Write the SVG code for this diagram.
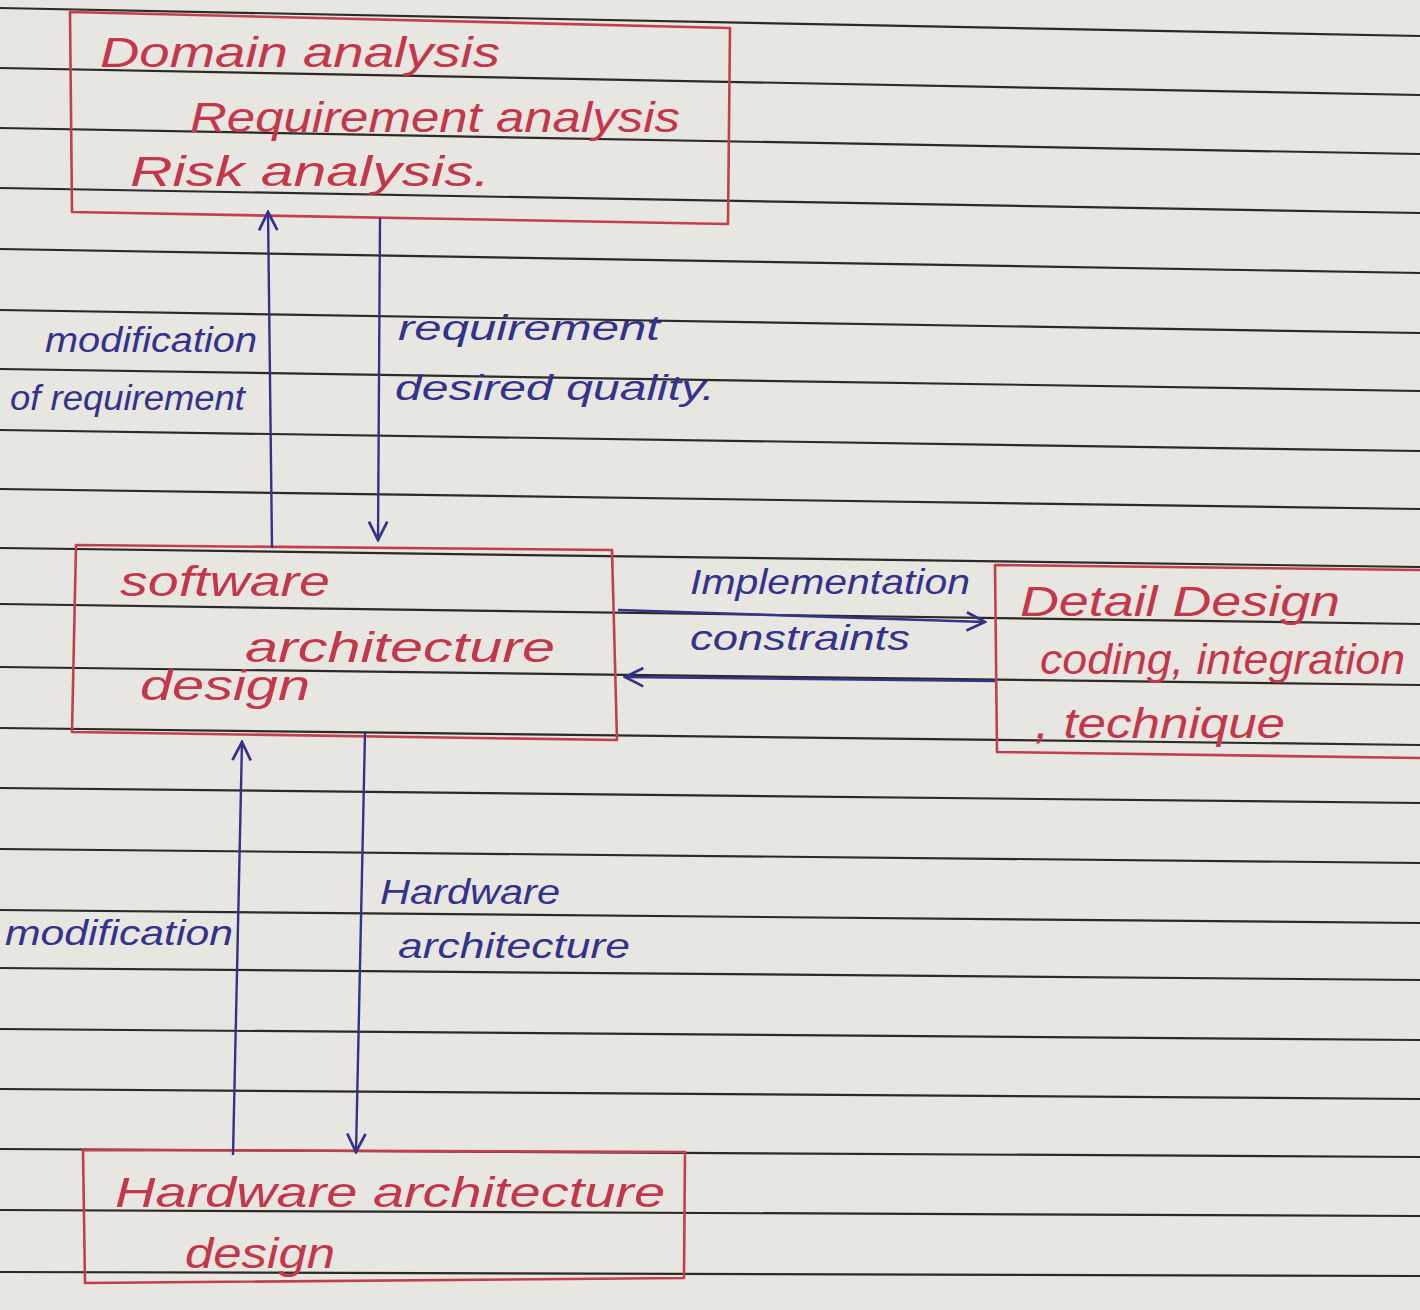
<svg xmlns="http://www.w3.org/2000/svg" width="1420" height="1310" viewBox="0 0 1420 1310">
  <defs>
    <marker id="arr" viewBox="0 0 12 12" refX="11" refY="6" markerWidth="22" markerHeight="22" markerUnits="userSpaceOnUse" orient="auto">
      <path d="M1,1 L11,6 L1,11" fill="none" stroke="#34338a" stroke-width="1.5"/>
    </marker>
    <style>
      .rule { stroke: #2b2a28; stroke-width: 2.2; fill: none; }
      .box { stroke: #c2404e; stroke-width: 2.6; fill: none; stroke-linejoin: round; }
      .edge { stroke: #34338a; stroke-width: 2.4; fill: none; marker-end: url(#arr); }
      .red { fill: #c4364a; font-family: "Liberation Sans", sans-serif; font-style: italic; font-size: 42px; }
      .blue { fill: #33338c; font-family: "Liberation Sans", sans-serif; font-style: italic; font-size: 35px; }
    </style>
  </defs>
  <rect x="0" y="0" width="1420" height="1310" fill="#e8e6e0"/>
  <g id="ruled-paper">
    <path class="rule" d="M0,8 L1420,36"/>
    <path class="rule" d="M0,68 L1420,95"/>
    <path class="rule" d="M0,128 L1420,154"/>
    <path class="rule" d="M0,188 L1420,213"/>
    <path class="rule" d="M0,249 L1420,273"/>
    <path class="rule" d="M0,310 L1420,333"/>
    <path class="rule" d="M0,369 L1420,391"/>
    <path class="rule" d="M0,430 L1420,451"/>
    <path class="rule" d="M0,489 L1420,509"/>
    <path class="rule" d="M0,548 L1420,567"/>
    <path class="rule" d="M0,604 L1420,624"/>
    <path class="rule" d="M0,667 L1420,685"/>
    <path class="rule" d="M0,728 L1420,745"/>
    <path class="rule" d="M0,788 L1420,803"/>
    <path class="rule" d="M0,849 L1420,863"/>
    <path class="rule" d="M0,910 L1420,923"/>
    <path class="rule" d="M0,968 L1420,980"/>
    <path class="rule" d="M0,1029 L1420,1040"/>
    <path class="rule" d="M0,1089 L1420,1099"/>
    <path class="rule" d="M0,1149 L1420,1157"/>
    <path class="rule" d="M0,1210 L1420,1216"/>
    <path class="rule" d="M0,1272 L1420,1276"/>
  </g>
  <g id="node-domain">
    <path class="box" d="M70,12 L730,28 L728,224 L72,212 Z"/>
    <text class="red" x="100" y="67" textLength="400" lengthAdjust="spacingAndGlyphs">Domain analysis</text>
    <text class="red" x="190" y="132" textLength="490" lengthAdjust="spacingAndGlyphs">Requirement analysis</text>
    <text class="red" x="130" y="186" textLength="360" lengthAdjust="spacingAndGlyphs">Risk analysis.</text>
  </g>
  <g id="node-software">
    <path class="box" d="M76,545 L612,550 L617,740 L72,732 Z"/>
    <text class="red" x="120" y="596" textLength="210" lengthAdjust="spacingAndGlyphs">software</text>
    <text class="red" x="245" y="662" textLength="310" lengthAdjust="spacingAndGlyphs">architecture</text>
    <text class="red" x="140" y="700" textLength="170" lengthAdjust="spacingAndGlyphs">design</text>
  </g>
  <g id="node-detail">
    <path class="box" d="M1420,570 L995,565 L997,752 L1420,758"/>
    <text class="red" x="1020" y="616" textLength="320" lengthAdjust="spacingAndGlyphs">Detail Design</text>
    <text class="red" x="1040" y="674" textLength="365" lengthAdjust="spacingAndGlyphs">coding, integration</text>
    <text class="red" x="1035" y="738" textLength="250" lengthAdjust="spacingAndGlyphs">, technique</text>
  </g>
  <g id="node-hardware">
    <path class="box" d="M83,1150 L685,1152 L684,1278 L85,1283 Z"/>
    <text class="red" x="115" y="1207" textLength="550" lengthAdjust="spacingAndGlyphs">Hardware architecture</text>
    <text class="red" x="185" y="1268" textLength="150" lengthAdjust="spacingAndGlyphs">design</text>
  </g>
  <g id="connectors">
    <path class="edge" d="M272,548 L268,212"/>
    <path class="edge" d="M380,218 L378,540"/>
    <path class="edge" d="M618,610 L985,622"/>
    <path class="edge" d="M995,681 L625,677"/>
    <path class="edge" d="M233,1155 L242,742"/>
    <path class="edge" d="M365,733 L356,1152"/>
  </g>
  <g id="edge-labels">
    <text class="blue" x="45" y="352" textLength="212" lengthAdjust="spacingAndGlyphs">modification</text>
    <text class="blue" x="10" y="410" textLength="235" lengthAdjust="spacingAndGlyphs">of requirement</text>
    <text class="blue" x="398" y="340" textLength="262" lengthAdjust="spacingAndGlyphs">requirement</text>
    <text class="blue" x="395" y="400" textLength="320" lengthAdjust="spacingAndGlyphs">desired quality.</text>
    <text class="blue" x="690" y="594" textLength="280" lengthAdjust="spacingAndGlyphs">Implementation</text>
    <text class="blue" x="690" y="650" textLength="220" lengthAdjust="spacingAndGlyphs">constraints</text>
    <text class="blue" x="5" y="945" textLength="228" lengthAdjust="spacingAndGlyphs">modification</text>
    <text class="blue" x="380" y="904" textLength="180" lengthAdjust="spacingAndGlyphs">Hardware</text>
    <text class="blue" x="398" y="958" textLength="232" lengthAdjust="spacingAndGlyphs">architecture</text>
  </g>
</svg>
